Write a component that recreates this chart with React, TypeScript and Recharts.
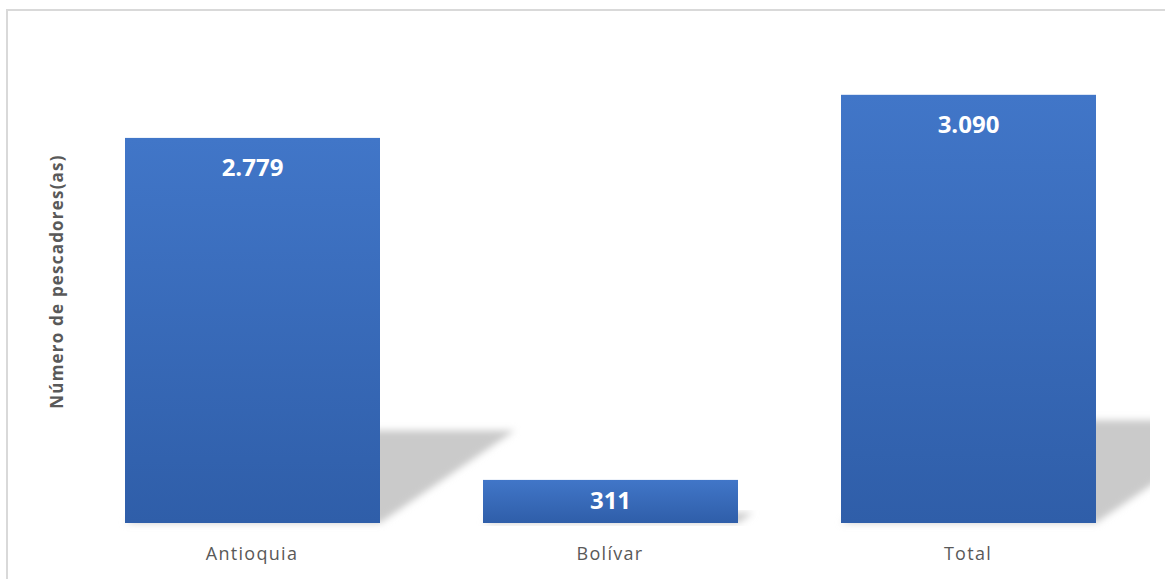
import React from 'react';
import { BarChart, Bar, XAxis, YAxis, LabelList } from 'recharts';

const categories = ['Antioquia', 'Bolívar', 'Total'];
const pescadores = [2779, 311, 3090];
const valueLabels = ['2.779', '311', '3.090'];
const yAxisTitle = 'Número de pescadores(as)';

const data = categories.map((c, i) => ({ name: c, value: pescadores[i], label: valueLabels[i] }));

const TEXT_GRAY = '#595959';

const BarWithShadow = (props: any) => {
  const { x, y, width, height } = props;
  if (height == null || width == null) return null;
  const base = y + height;
  const sh = height * 0.24;
  const shift = height * 0.35;
  const pts = `${x},${base} ${x + width},${base} ${x + width + shift},${base - sh} ${x + shift},${base - sh}`;
  return (
    <g>
      <polygon points={pts} fill="#cacaca" filter="url(#shadowBlur)" />
      <rect x={x} y={y} width={width} height={height} fill="url(#barGrad)" />
    </g>
  );
};

const ValueLabel = (props: any) => {
  const { x, y, width, height, value } = props;
  const off = Math.min(29, height / 2 - 2);
  return (
    <text
      x={x + width / 2}
      y={y + off}
      textAnchor="middle"
      dominantBaseline="central"
      fill="#ffffff"
      fontFamily="'Open Sans', sans-serif"
      fontWeight={700}
      fontSize={24}
    >
      {value}
    </text>
  );
};

const CategoryTick = (props: any) => {
  const { x, y, payload } = props;
  return (
    <text
      x={x}
      y={y + 29}
      textAnchor="middle"
      fill={TEXT_GRAY}
      fontFamily="'Open Sans', sans-serif"
      fontSize={18}
      letterSpacing={1.3}
    >
      {payload.value}
    </text>
  );
};

const YTitle = (props: any) => {
  const vb = props.viewBox || { x: 0, y: 38, width: 73, height: 485 };
  const cx = vb.x + 56;
  const cy = vb.y + vb.height / 2 + 1;
  return (
    <text
      x={cx}
      y={cy}
      transform={`rotate(-90, ${cx}, ${cy})`}
      textAnchor="middle"
      dominantBaseline="central"
      fill={TEXT_GRAY}
      fontFamily="'Open Sans', sans-serif"
      fontWeight={700}
      fontSize={17}
      letterSpacing={1.2}
    >
      {yAxisTitle}
    </text>
  );
};

export default function App() {
  return (
    <div style={{ position: 'absolute', left: 0, top: 0, width: 1165, height: 579, overflow: 'hidden', background: '#ffffff' }}>
      <div
        style={{
          position: 'absolute',
          left: 6,
          top: 9,
          width: 1200,
          height: 600,
          border: '2px solid #d9d9d9',
          boxSizing: 'border-box',
        }}
      />
      <div style={{ position: 'absolute', left: 0, top: 0 }}>
        <BarChart
          width={1150}
          height={579}
          data={data}
          margin={{ top: 38, right: 3, bottom: 0, left: 0 }}
          barSize={255}
        >
          <defs>
            <linearGradient id="barGrad" x1="0" y1="0" x2="0" y2="1">
              <stop offset="0%" stopColor="#4176c8" />
              <stop offset="100%" stopColor="#2f5ea9" />
            </linearGradient>
            <filter id="shadowBlur" x="-20%" y="-20%" width="140%" height="140%">
              <feGaussianBlur stdDeviation="3.5" />
            </filter>
          </defs>
          <XAxis
            dataKey="name"
            axisLine={false}
            tickLine={false}
            height={56}
            tick={<CategoryTick />}
            interval={0}
          />
          <YAxis
            width={73}
            domain={[0, 3500]}
            tick={false}
            axisLine={false}
            tickLine={false}
            label={{ content: <YTitle /> }}
          />
          <Bar dataKey="value" shape={<BarWithShadow />} isAnimationActive={false}>
            <LabelList dataKey="label" content={<ValueLabel />} />
          </Bar>
        </BarChart>
      </div>
    </div>
  );
}
